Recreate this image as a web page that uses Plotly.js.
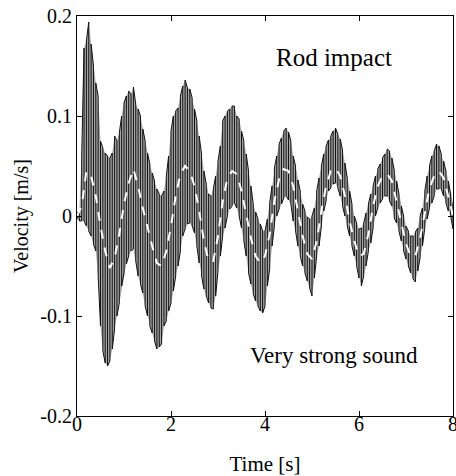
<!DOCTYPE html>
<html>
<head>
<meta charset="utf-8">
<script src="https://cdn.plot.ly/plotly-3.0.1.min.js"></script>
<style>html,body{margin:0;padding:0;background:#fff;}#chart{width:456px;height:476px;}</style>
</head>
<body>
<div id="chart"></div>
<script>
// Time samples [s]
const time = [0,0.05,0.1,0.15,0.2,0.25,0.3,0.35,0.4,0.45,0.5,0.55,0.6,0.65,0.7,0.75,0.8,0.85,0.9,0.95,
1,1.05,1.1,1.15,1.2,1.25,1.3,1.35,1.4,1.45,1.5,1.55,1.6,1.65,1.7,1.75,1.8,1.85,1.9,1.95,
2,2.05,2.1,2.15,2.2,2.25,2.3,2.35,2.4,2.45,2.5,2.55,2.6,2.65,2.7,2.75,2.8,2.85,2.9,2.95,
3,3.05,3.1,3.15,3.2,3.25,3.3,3.35,3.4,3.45,3.5,3.55,3.6,3.65,3.7,3.75,3.8,3.85,3.9,3.95,
4,4.05,4.1,4.15,4.2,4.25,4.3,4.35,4.4,4.45,4.5,4.55,4.6,4.65,4.7,4.75,4.8,4.85,4.9,4.95,
5,5.05,5.1,5.15,5.2,5.25,5.3,5.35,5.4,5.45,5.5,5.55,5.6,5.65,5.7,5.75,5.8,5.85,5.9,5.95,
6,6.05,6.1,6.15,6.2,6.25,6.3,6.35,6.4,6.45,6.5,6.55,6.6,6.65,6.7,6.75,6.8,6.85,6.9,6.95,
7,7.05,7.1,7.15,7.2,7.25,7.3,7.35,7.4,7.45,7.5,7.55,7.6,7.65,7.7,7.75,7.8,7.85,7.9,7.95,8];

// Upper extreme of the fast oscillation [m/s]
const upperVel = [0.003,0.005,0.06,0.168,0.175,0.194,0.172,0.15,0.133,0.12,0.075,0.068,0.063,0.06,0.058,0.063,0.08,0.075,0.083,0.1,
0.113,0.12,0.125,0.122,0.129,0.112,0.107,0.1,0.087,0.075,0.063,0.052,0.043,0.035,0.027,0.022,0.02,0.025,0.04,0.06,
0.085,0.1,0.105,0.108,0.12,0.13,0.136,0.128,0.127,0.118,0.107,0.095,0.08,0.062,0.045,0.032,0.022,0.02,0.027,0.04,
0.055,0.07,0.095,0.1,0.105,0.107,0.11,0.11,0.1,0.097,0.085,0.075,0.062,0.045,0.03,0.012,0.004,-0.003,-0.008,-0.015,
-0.015,-0.003,0.013,0.03,0.048,0.06,0.072,0.078,0.085,0.088,0.084,0.075,0.06,0.05,0.036,0.025,0.012,0.005,-0.001,-0.003,
0,0.008,0.025,0.038,0.05,0.062,0.07,0.076,0.08,0.085,0.088,0.082,0.077,0.066,0.053,0.038,0.025,0.012,0,-0.007,
-0.013,-0.012,-0.007,0.003,0.012,0.022,0.03,0.04,0.047,0.052,0.058,0.062,0.067,0.065,0.058,0.046,0.035,0.022,0.01,0,
-0.01,-0.015,-0.02,-0.02,-0.016,-0.012,0,0.008,0.025,0.04,0.05,0.06,0.065,0.072,0.07,0.062,0.055,0.045,0.035,0.022,0.013];

// Lower extreme of the fast oscillation [m/s]
const lowerVel = [-0.003,-0.005,-0.005,-0.005,-0.01,-0.015,-0.02,-0.028,-0.035,-0.06,-0.11,-0.135,-0.147,-0.15,-0.145,-0.133,-0.113,-0.1,-0.087,-0.07,
-0.057,-0.048,-0.04,-0.035,-0.033,-0.045,-0.06,-0.068,-0.077,-0.09,-0.1,-0.11,-0.117,-0.125,-0.133,-0.131,-0.128,-0.11,-0.105,-0.095,
-0.087,-0.075,-0.06,-0.05,-0.035,-0.02,-0.013,-0.008,-0.007,-0.01,-0.017,-0.03,-0.047,-0.06,-0.073,-0.08,-0.087,-0.092,-0.093,-0.08,
-0.055,-0.04,-0.02,-0.012,0,0.007,0.01,0.013,0.008,0,-0.012,-0.025,-0.04,-0.057,-0.068,-0.078,-0.085,-0.09,-0.095,-0.097,
-0.09,-0.07,-0.053,-0.03,-0.01,0,0.007,0.012,0.018,0.02,0.016,0.012,-0.005,-0.015,-0.03,-0.04,-0.05,-0.057,-0.065,-0.072,
-0.08,-0.062,-0.04,-0.03,-0.01,0.005,0.015,0.025,0.028,0.032,0.033,0.028,0.02,0.01,0,-0.01,-0.02,-0.03,-0.04,-0.05,
-0.062,-0.07,-0.06,-0.05,-0.035,-0.027,-0.012,0,0.008,0.013,0.017,0.02,0.02,0.015,0.01,-0.002,-0.007,-0.015,-0.025,-0.035,
-0.043,-0.05,-0.057,-0.063,-0.066,-0.055,-0.042,-0.03,-0.012,-0.003,0.008,0.013,0.02,0.027,0.027,0.027,0.02,0.013,0.005,0,-0.013];

// Slow (low-pass) component, drawn dashed white
const meanTime = [0,0.1,0.2,0.3,0.4,0.5,0.6,0.7,0.8,0.9,1,1.1,1.2,1.3,1.4,1.5,1.6,1.7,1.8,1.9,
2,2.1,2.2,2.3,2.4,2.5,2.6,2.7,2.8,2.9,3,3.1,3.2,3.3,3.4,3.5,3.6,3.7,3.8,3.9,
4,4.1,4.2,4.3,4.4,4.5,4.6,4.7,4.8,4.9,5,5.1,5.2,5.3,5.4,5.5,5.6,5.7,5.8,5.9,
6,6.1,6.2,6.3,6.4,6.5,6.6,6.7,6.8,6.9,7,7.1,7.2,7.3,7.4,7.5,7.6,7.7,7.8,7.9,8];
const meanVel = [0,0.01,0.045,0.04,0.02,-0.01,-0.035,-0.052,-0.042,-0.018,0.012,0.033,0.047,0.03,0.008,-0.012,-0.03,-0.047,-0.05,-0.035,
-0.01,0.02,0.042,0.05,0.045,0.03,0.005,-0.025,-0.045,-0.045,-0.02,0.015,0.038,0.045,0.042,0.025,0,-0.022,-0.04,-0.047,
-0.04,-0.018,0.015,0.037,0.047,0.045,0.03,0.005,-0.02,-0.038,-0.043,-0.025,0.005,0.03,0.045,0.048,0.04,0.02,-0.005,-0.025,
-0.04,-0.038,-0.018,0.01,0.03,0.04,0.042,0.035,0.015,-0.008,-0.028,-0.04,-0.04,-0.022,0.005,0.028,0.04,0.045,0.038,0.02,0];

const xTicks = [0,2,4,6,8];
const xTickText = ['0','2','4','6','8'];
const yTicks = [-0.2,-0.1,0,0.1,0.2];
const yTickText = ['-0.2','-0.1','0','0.1','0.2'];

// Build the oscillation streaks: vertical strokes between the extremes
const zx = [], zy = [];
for (let i = 0; i < time.length; i++) {
  if (i % 2 === 0) { zx.push(time[i], time[i]); zy.push(lowerVel[i], upperVel[i]); }
  else { zx.push(time[i], time[i]); zy.push(upperVel[i], lowerVel[i]); }
}

const FONT = '"Liberation Serif", "Times New Roman", serif';

const traces = [
  {x: time, y: upperVel, mode: 'lines', line: {color: 'rgba(0,0,0,0)', width: 0}, hoverinfo: 'skip', showlegend: false},
  {x: time, y: lowerVel, mode: 'lines', line: {color: 'rgba(0,0,0,0)', width: 0}, fill: 'tonexty', fillcolor: '#a6a6a6', hoverinfo: 'skip', showlegend: false},
  {x: zx, y: zy, mode: 'lines', line: {color: '#111', width: 1}, showlegend: false, name: 'velocity'},
  {x: meanTime, y: meanVel, mode: 'lines', line: {color: '#ffffff', width: 2, dash: 'dash'}, showlegend: false, name: 'mean'}
];

const axisCommon = {
  showgrid: false, zeroline: false, showline: true, linecolor: '#000', linewidth: 1,
  mirror: 'ticks', ticks: 'inside', ticklen: 5, tickcolor: '#000', tickwidth: 1,
  ticklabeloverflow: 'allow',
  tickfont: {family: FONT, size: 20, color: '#000'}
};

const layout = {
  width: 456, height: 476,
  margin: {l: 77, r: 3, t: 16, b: 60},
  paper_bgcolor: '#fff', plot_bgcolor: '#fff',
  showlegend: false,
  xaxis: Object.assign({}, axisCommon, {
    range: [0, 8], tickmode: 'array', tickvals: xTicks, ticktext: xTickText,
    ticklabelstandoff: -10,
    title: {text: 'Time [s]', font: {family: FONT, size: 21, color: '#000'}, standoff: 26}
  }),
  yaxis: Object.assign({}, axisCommon, {
    range: [-0.2, 0.2], tickmode: 'array', tickvals: yTicks, ticktext: yTickText,
    title: {text: 'Velocity [m/s]', font: {family: FONT, size: 20, color: '#000'}, standoff: 6}
  }),
  annotations: [
    {x: 5.47, y: 0.159, xref: 'x', yref: 'y', text: 'Rod impact', showarrow: false,
     font: {family: FONT, size: 25, color: '#000'}},
    {x: 5.47, y: -0.139, xref: 'x', yref: 'y', text: 'Very strong sound', showarrow: false,
     font: {family: FONT, size: 23, color: '#000'}}
  ]
};

Plotly.newPlot('chart', traces, layout, {staticPlot: true, displayModeBar: false});
</script>
</body>
</html>
